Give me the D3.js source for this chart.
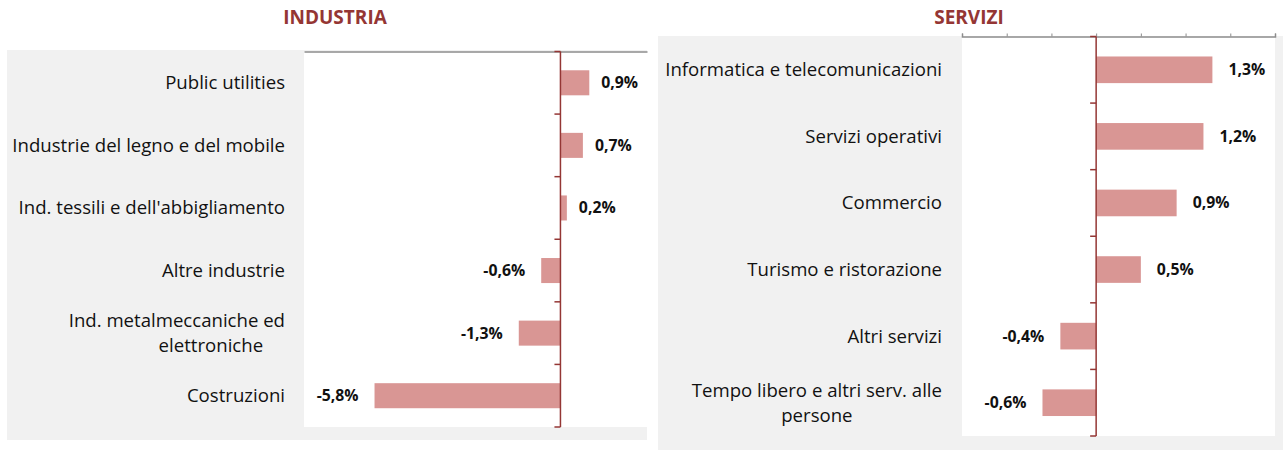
<!DOCTYPE html>
<html>
<head>
<meta charset="utf-8">
<script src="https://cdn.jsdelivr.net/npm/d3@7"></script>
<style>
  body { margin: 0; background: #fff; }
  svg { display: block; font-family: "Open Sans", Lato, "Liberation Sans", sans-serif; }
</style>
</head>
<body>
<svg width="1283" height="450"></svg>
<script>
// dati
const industriaLabels = [
    ["Public utilities"],
    ["Industrie del legno e del mobile"],
    ["Ind. tessili e dell'abbigliamento"],
    ["Altre industrie"],
    ["Ind. metalmeccaniche ed", "elettroniche"],
    ["Costruzioni"]
];
const industriaValues = [0.9, 0.7, 0.2, -0.6, -1.3, -5.8];

const serviziLabels = [
    ["Informatica e telecomunicazioni"],
    ["Servizi operativi"],
    ["Commercio"],
    ["Turismo e ristorazione"],
    ["Altri servizi"],
    ["Tempo libero e altri serv. alle", "persone"]
];
const serviziValues = [1.3, 1.2, 0.9, 0.5, -0.4, -0.6];
const serviziTicks = [-1.5, -1, -0.5, 0, 0.5, 1, 1.5, 2];

const barColor = "#d99694";
const redDark = "#943634";

let svg = d3.select("svg");

function fmt(v) {
    return v.toFixed(1).replace(".", ",") + "%";
}

function drawPanel(cfg) {
    let g = svg.append("g");

    // sfondo grigio del grafico
    g.append("rect")
        .attr("x", cfg.bg[0]).attr("y", cfg.bg[1])
        .attr("width", cfg.bg[2]).attr("height", cfg.bg[3])
        .attr("fill", "#f1f1f1");

    // area del tracciato
    g.append("rect")
        .attr("x", cfg.plot[0]).attr("y", cfg.plot[1])
        .attr("width", cfg.plot[2] - cfg.plot[0]).attr("height", cfg.plot[3] - cfg.plot[1])
        .attr("fill", "#fff");

    // titolo
    svg.append("text")
        .attr("x", cfg.titleX).attr("y", 24)
        .attr("text-anchor", "middle")
        .attr("fill", redDark)
        .style("font-size", "19px")
        .style("font-weight", "bold")
        .text(cfg.title);

    let x = d3.scaleLinear().domain(cfg.domain).range([cfg.plot[0], cfg.plot[2]]);
    let idx = cfg.values.map((d, i) => i);
    let y = d3.scaleBand().domain(idx).range([cfg.plot[1], cfg.plot[3]])
        .paddingInner(0.6).paddingOuter(0.3);

    // asse orizzontale in alto
    let axisTop = d3.axisTop(x).tickSize(cfg.ticks ? 3 : 0).tickFormat("");
    if (cfg.ticks) axisTop.tickValues(cfg.ticks);
    let ax = g.append("g")
        .attr("transform", `translate(0, ${cfg.plot[1]})`)
        .call(axisTop);
    ax.select(".domain").attr("stroke", "#8c8c8c").attr("stroke-width", 1.5);
    ax.selectAll(".tick line").attr("stroke", "#8c8c8c");

    // barre
    g.selectAll(".bar")
        .data(cfg.values)
        .enter()
        .append("rect")
        .attr("x", d => x(Math.min(0, d)))
        .attr("width", d => Math.abs(x(d) - x(0)))
        .attr("y", (d, i) => y(i))
        .attr("height", y.bandwidth())
        .attr("fill", barColor);

    // etichette dei valori
    g.selectAll(".val")
        .data(cfg.values)
        .enter()
        .append("text")
        .attr("x", d => d >= 0 ? x(d) + cfg.gapPos : x(d) - cfg.gapNeg)
        .attr("y", (d, i) => y(i) + y.bandwidth() / 2)
        .attr("dy", "0.35em")
        .attr("text-anchor", d => d >= 0 ? "start" : "end")
        .style("font-size", "15.8px")
        .style("font-weight", "bold")
        .attr("fill", "#111")
        .text(d => fmt(d));

    // asse verticale sullo zero con le tacche delle categorie
    let x0 = x(0);
    g.append("line")
        .attr("x1", x0).attr("x2", x0)
        .attr("y1", cfg.plot[1]).attr("y2", cfg.plot[3])
        .attr("stroke", redDark).attr("stroke-width", 1.5);
    let step = y.step();
    let bounds = idx.map(i => y(i) + y.bandwidth() / 2 - step / 2);
    bounds.push(cfg.plot[3]);
    g.selectAll(".ctick")
        .data(bounds)
        .enter()
        .append("line")
        .attr("x1", x0 - 6).attr("x2", x0)
        .attr("y1", d => d).attr("y2", d => d)
        .attr("stroke", redDark).attr("stroke-width", 1.5);

    // etichette delle categorie
    cfg.labels.forEach((lines, i) => {
        let cy = y(i) + y.bandwidth() / 2;
        let lh = 25;
        let t = g.append("text")
            .attr("x", cfg.labelX)
            .attr("text-anchor", "end")
            .attr("fill", "#111")
            .style("font-size", "18.6px");
        lines.forEach((l, j) => {
            t.append("tspan")
                .attr("x", cfg.labelX)
                .attr("y", cy + (j - (lines.length - 1) / 2) * lh)
                .attr("dy", "0.35em")
                .text(l);
        });
        if (lines.length > 1) {
            // testo a due righe centrato sulla prima riga
            let first = t.select("tspan").node().getComputedTextLength();
            let cx = cfg.labelX - first / 2 + cfg.wrapShift;
            t.selectAll("tspan").filter((d, j) => j > 0)
                .attr("x", cx).attr("text-anchor", "middle");
        }
    });
}

drawPanel({
    title: "INDUSTRIA", titleX: 335,
    bg: [7, 50, 640, 390],
    plot: [304, 51.5, 647, 427],
    domain: [-8, 2.7],
    values: industriaValues, labels: industriaLabels,
    labelX: 285, gapPos: 12, gapNeg: 16, wrapShift: 34,
    ticks: null
});

drawPanel({
    title: "SERVIZI", titleX: 969,
    bg: [658, 36, 625, 414],
    plot: [962, 36.5, 1275, 436],
    domain: [-1.5, 2],
    values: serviziValues, labels: serviziLabels,
    labelX: 942, gapPos: 16, gapNeg: 16, wrapShift: 0,
    ticks: serviziTicks
});
</script>
</body>
</html>
